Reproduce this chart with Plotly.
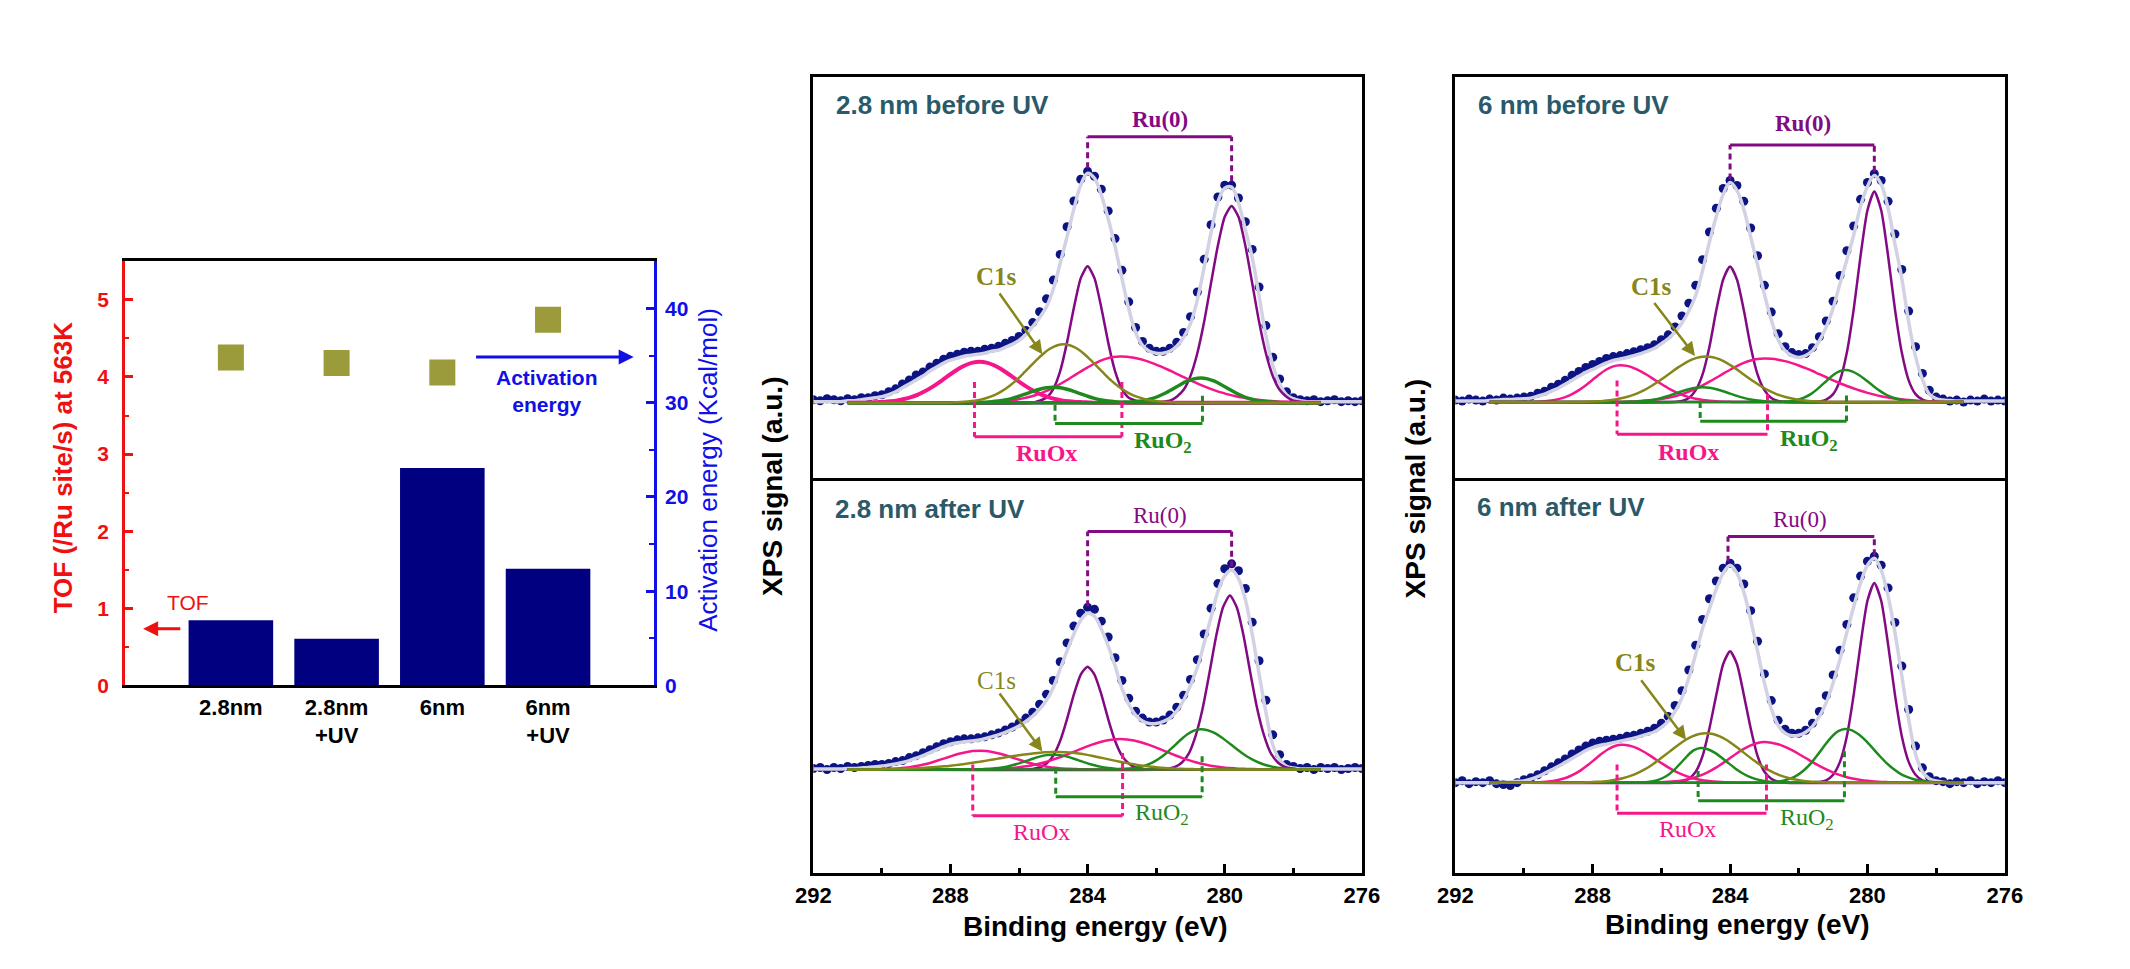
import plotly.graph_objects as go

W, H = 2130, 969
SANS = "Liberation Sans, Arial, sans-serif"
SERIF = "Liberation Serif, Times New Roman, serif"

# ---------------- Left chart: TOF (bars) and activation energy (squares) ----------------
SAMPLE_POS = [0, 1, 2, 3]
SAMPLE_LABELS = ["2.8nm", "2.8nm<br>+UV", "6nm", "6nm<br>+UV"]
TOF_VALUES = [0.846, 0.606, 2.82, 1.513]
ACT_ENERGY = [34.8, 34.2, 33.2, 38.8]

# ---------------- XPS spectra (binding energy grid 292 -> 276 eV, 0.2 eV step) ----------------
BE_START = 292.0
BE_STEP = 0.2
BE_RANGE = [292, 276]
COMPONENT_SPAN = (291.0, 277.2)

# raw data (dots) and fit envelope, intensity in arbitrary units above baseline
DATA_TL = [3, 2, 4, 3, 2, 4, 3, 5, 5, 7,
           8, 11, 14, 19, 23, 28, 31, 36, 40, 44,
           47, 49, 51, 52, 52, 54, 55, 57, 60, 63,
           67, 73, 81, 92, 105, 124, 150, 178, 204, 226,
           234, 229, 216, 194, 166, 134, 102, 76, 62, 55,
           52, 52, 55, 61, 71, 87, 112, 145, 180, 208,
           220, 220, 207, 183, 155, 117, 78, 46, 24, 11,
           5, 3, 2, 3, 1, 2, 3, 1, 2, 1, 2]
ENV_TL = [1, 1, 1, 1, 1, 2, 2, 3, 4, 5,
          6, 8, 11, 15, 19, 23, 27, 32, 36, 40,
          43, 45, 47, 48, 49, 50, 52, 53, 56, 59,
          63, 69, 77, 86, 97, 115, 141, 168, 196, 220,
          232, 227, 210, 186, 158, 126, 95, 71, 58, 52,
          50, 50, 52, 57, 66, 80, 104, 137, 172, 203,
          217, 218, 202, 175, 147, 108, 68, 38, 19, 8,
          4, 2, 1, 1, 1, 1, 1, 1, 1, 1, 1]

DATA_TR = [2, 1, 3, 2, 1, 3, 2, 4, 3, 4,
           5, 6, 9, 11, 15, 18, 22, 27, 31, 35,
           38, 41, 44, 46, 47, 49, 51, 53, 55, 58,
           63, 68, 76, 87, 100, 118, 144, 172, 196, 216,
           224, 219, 203, 176, 148, 118, 91, 69, 56, 50,
           48, 49, 55, 66, 82, 102, 128, 153, 178, 205,
           222, 231, 224, 203, 170, 134, 92, 56, 29, 12,
           5, 3, 1, 2, 0, 2, 1, 3, 1, 2, 1]
ENV_TR = [1, 1, 1, 1, 1, 1.5, 2, 2.5, 2.5, 3,
          3.3, 4, 6, 8, 11, 14, 18, 22, 26, 30,
          33, 36.5, 39.5, 42, 43.5, 45, 47, 49, 51.5, 54.5,
          59, 64, 71, 80, 92, 108, 133, 162, 188, 210,
          222, 214, 195, 167, 139, 109, 83, 63, 52, 47,
          45, 47, 52, 62, 76, 95, 120, 144, 169, 198,
          218, 229, 220, 196, 160, 125, 81, 46, 23, 8,
          3.5, 2, 1.5, 1, 1, 1, 1, 1, 1, 1, 1]

DATA_BL = [1, 2, 0, 2, 1, 3, 2, 3, 4, 5,
           5, 6, 8, 9, 12, 14, 17, 20, 23, 26,
           28, 30, 31, 31, 32, 33, 35, 37, 40, 43,
           47, 52, 58, 66, 76, 90, 109, 128, 145, 158,
           164, 162, 150, 134, 113, 90, 72, 59, 52, 48,
           48, 50, 55, 63, 75, 91, 111, 137, 163, 188,
           203, 208, 201, 183, 149, 110, 70, 35, 15, 5,
           3, 1, 2, 0, 2, 1, 2, 0, 1, 2, 1]
ENV_BL = [0.5, 0.5, 0.5, 0.5, 0.5, 1, 1, 1.5, 2, 2.8,
          3.5, 4.5, 5.5, 7, 9, 11.5, 14, 17, 20, 23,
          25.5, 27, 28, 28.8, 29.5, 31, 33, 35, 37.5, 40.5,
          44, 48.5, 54, 61, 70, 83, 101.7, 120, 137, 151,
          158, 155, 142, 125, 105, 82, 66, 55, 49, 46.5,
          46.5, 48.5, 52, 59, 70, 85, 103, 128, 154, 180,
          196, 201.7, 193, 172, 137, 97, 58, 25, 10, 3.3,
          1.5, 0.5, 0.5, 0.5, 0.5, 0.5, 0.5, 0.5, 0.5, 0.5, 0.5]

DATA_BR = [0, 2, -1, 1, 0, 2, -1, -2, -3, 0,
           3, 5, 8, 12, 16, 20, 24, 29, 33, 37,
           40, 42, 43, 44, 45, 47, 48, 50, 52, 55,
           60, 67, 78, 93, 114, 139, 165, 186, 204, 217,
           222, 217, 201, 174, 143, 110, 83, 63, 54, 50,
           50, 53, 60, 72, 88, 109, 134, 160, 187, 209,
           224, 229, 220, 197, 162, 118, 74, 37, 15, 6,
           2, 1, -1, 1, 0, 2, -1, 1, 0, 2, 0]
ENV_BR = [0, 0, 0, 0, 0, 0, 0, 0.5, 1, 1.3,
          1.7, 3.5, 6, 9.5, 13, 16.5, 20.5, 24.5, 28.5, 32.5,
          35.5, 37.5, 39, 40.5, 42, 43.5, 45, 47, 49, 51.5,
          56, 62, 72, 86, 106, 130, 156, 176, 196, 212,
          220, 212, 193, 165, 133, 101, 75, 58, 50, 47.5,
          48, 51, 57, 67, 81, 101, 125, 152, 178, 202,
          220, 227, 215, 189, 152, 108, 64, 29, 11, 4,
          1.7, 0.5, 0, 0, 0, 0, 0, 0, 0, 0, 0]

# fitted components: (peak centre eV, intensities on the 0.2 eV grid, high BE -> low BE)
RU0_TL = [(284.0, [0, 2, 5, 14, 32, 61, 96, 126, 138, 126, 96, 61, 32, 14, 5, 2, 0]),
          (279.8, [0, 1, 2, 6, 13, 27, 50, 82, 121, 159, 188, 199, 188, 159, 121, 82, 50, 27, 13, 6, 2, 1, 0])]
RUOX_TL = [(287.15, [0, 0.2, 0.5, 0.8, 1.4, 2.3, 3.7, 5.6, 8.2, 11.5, 15.5, 20.1, 25.1, 30, 34.5, 38.1, 40.5, 41.3,
                     40.5, 38.1, 34.5, 30, 25.1, 20.1, 15.5, 11.5, 8.2, 5.6, 3.7, 2.3, 1.4, 0.8, 0.5, 0.2, 0]),
           (283.05, [0, 0.4, 0.7, 1, 1.5, 2.2, 3.3, 4.6, 6.3, 8.5, 11.2, 14.3, 17.9, 21.9, 26.2, 30.5, 34.7, 38.6, 42, 44.6,
                     46.1, 46.7, 46.4, 45.4, 43.9, 41.8, 39.3, 36.4, 33.3, 30, 26.7, 23.4, 20.2, 17.2, 14.5, 12, 9.9,
                     7.9, 6.3, 5, 3.8, 2.9, 2.2, 1.6, 1.2, 0.9, 0.6, 0])]
RUO2_TL = [(285.0, [0, 0.2, 0.5, 0.9, 1.6, 2.7, 4.4, 6.5, 8.9, 11.4, 13.6, 15.2, 15.7, 15.2, 13.6, 11.4, 8.9, 6.5, 4.4,
                    2.7, 1.6, 0.9, 0.5, 0.2, 0]),
           (280.7, [0, 0.4, 0.7, 1.4, 2.6, 4.4, 7, 10.3, 14.2, 18.2, 21.7, 24.1, 25, 24.1, 21.7, 18.2, 14.2, 10.3, 7, 4.4,
                    2.6, 1.4, 0.7, 0.4, 0])]
C1S_TL = [(284.7, [0, 0.4, 0.6, 1.2, 2, 3.3, 5.3, 8, 11.7, 16.4, 22.1, 28.7, 35.8, 42.8, 49.3, 54.5, 57.8, 59, 57.8,
                   54.5, 49.3, 42.8, 35.8, 28.7, 22.1, 16.4, 11.7, 8, 5.3, 3.3, 2, 1.2, 0.6, 0.4, 0])]

RU0_TR = [(284.0, [0, 1, 4, 12, 28, 56, 93, 124, 137, 124, 93, 56, 28, 12, 4, 1, 0]),
          (279.8, [0, 0.6, 2.5, 8, 22, 50, 94, 148, 194, 213, 194, 148, 94, 50, 22, 8, 2.5, 0.6, 0])]
RUOX_TR = [(287.2, [0, 0.4, 0.9, 1.6, 3, 5, 8.1, 12.1, 17.1, 22.6, 28.2, 32.9, 36.1, 37.3, 36.6, 34.4, 31.1, 27.1,
                    22.6, 18.2, 14, 10.4, 7.4, 5, 3.3, 2.1, 1.3, 0.7, 0.4, 0.2, 0]),
           (283.0, [0, 0.4, 0.6, 1, 1.5, 2.1, 3.1, 4.3, 5.9, 8, 10.5, 13.5, 16.9, 20.6, 24.6, 28.7, 32.7, 36.4, 39.6, 42,
                    43.5, 44, 43.7, 42.8, 41.4, 39.4, 37, 34.3, 31.4, 28.2, 25.1, 22, 19, 16.2, 13.7, 11.4, 9.3, 7.5,
                    5.9, 4.7, 3.6, 2.8, 2.1, 1.5, 1.1, 0.8, 0.6, 0])]
RUO2_TR = [(284.8, [0, 0.2, 0.4, 0.8, 1.5, 2.6, 4.2, 6.2, 8.5, 10.9, 13, 14.5, 15, 14.5, 13, 10.9, 8.5, 6.2, 4.2, 2.6,
                    1.5, 0.8, 0.4, 0.2, 0]),
           (280.65, [0, 0.4, 0.9, 2.1, 4.4, 8, 13.3, 19.6, 25.9, 30.6, 32.3, 31, 27.4, 22.4, 16.8, 11.6, 7.4, 4.4, 2.4,
                     1.2, 0.5, 0])]
C1S_TR = [(284.7, [0, 0.4, 0.7, 1.1, 1.8, 2.8, 4.3, 6.2, 8.8, 12.1, 16, 20.5, 25.4, 30.5, 35.3, 39.7, 43.1, 45.3, 46,
                   45.3, 43.1, 39.7, 35.3, 30.5, 25.4, 20.5, 16, 12.1, 8.8, 6.2, 4.3, 2.8, 1.8, 1.1, 0.7, 0.4, 0])]

RU0_BL = [(284.0, [0, 0.6, 2, 6, 14, 29, 51, 76, 96, 104, 96, 76, 51, 29, 14, 6, 2, 0.6, 0]),
          (279.85, [0, 0.9, 2.6, 7, 16, 34, 61, 97, 135, 164, 176, 164, 135, 97, 61, 34, 16, 7, 2.6, 0.9, 0])]
RUOX_BL = [(287.15, [0, 0.2, 0.4, 0.6, 1.1, 1.7, 2.6, 3.8, 5.3, 7.1, 9.3, 11.5, 13.8, 15.9, 17.5, 18.6, 19, 18.6, 17.5,
                     15.9, 13.8, 11.5, 9.3, 7.1, 5.3, 3.8, 2.6, 1.7, 1.1, 0.6, 0.4, 0.2, 0]),
           (283.05, [0, 0.3, 0.4, 0.7, 1, 1.5, 2.1, 3, 4.1, 5.6, 7.3, 9.4, 11.8, 14.4, 17.2, 20, 22.8, 25.4, 27.6, 29.3,
                     30.3, 30.7, 30.3, 29.3, 27.6, 25.4, 22.8, 20, 17.2, 14.4, 11.8, 9.4, 7.3, 5.6, 4.1, 3, 2.1, 1.5,
                     1, 0.7, 0.4, 0.3, 0])]
RUO2_BL = [(285.0, [0, 0.2, 0.4, 0.8, 1.5, 2.6, 4.2, 6.2, 8.5, 10.9, 13, 14.5, 15, 14.5, 13, 10.9, 8.5, 6.2, 4.2, 2.6,
                    1.5, 0.8, 0.4, 0.2, 0]),
           (280.7, [0, 0.2, 0.6, 1.2, 2.3, 4.2, 7.1, 11.3, 16.7, 23, 29.5, 35.3, 39.3, 40.7, 39.7, 36.9, 32.6, 27.4,
                    21.9, 16.7, 12.1, 8.4, 5.5, 3.5, 2, 1.2, 0.6, 0.3, 0])]
C1S_BL = [(284.85, [0, 0.4, 0.5, 0.7, 0.9, 1.2, 1.5, 1.9, 2.4, 3, 3.6, 4.4, 5.3, 6.2, 7.3, 8.4, 9.5, 10.7, 11.9, 13.1,
                    14.2, 15.2, 16, 16.7, 17.3, 17.6, 17.7, 17.5, 17, 16.1, 15, 13.7, 12.2, 10.7, 9.2, 7.7, 6.4, 5.2,
                    4.1, 3.2, 2.4, 1.8, 1.3, 0.9, 0.7, 0.4, 0.3, 0])]

RU0_BR = [(284.0, [0, 1, 4, 11, 27, 55, 89, 120, 133, 120, 89, 55, 27, 11, 4, 1, 0]),
          (279.8, [0, 0.6, 2.4, 8, 21, 47, 89, 140, 184, 202, 184, 140, 89, 47, 21, 8, 2.4, 0.6, 0])]
RUOX_BR = [(287.15, [0, 0.2, 0.4, 0.9, 1.7, 3.1, 5.2, 8.3, 12.4, 17.5, 23.2, 28.9, 33.8, 37.1, 38.3, 37.5, 35.4, 32,
                     27.8, 23.2, 18.7, 14.4, 10.6, 7.6, 5.2, 3.4, 2.1, 1.3, 0.8, 0.4, 0.2, 0]),
           (283.0, [0, 0.2, 0.5, 0.8, 1.4, 2.3, 3.6, 5.5, 8.1, 11.4, 15.4, 20, 24.9, 29.8, 34.2, 37.8, 40.2, 41, 40.4,
                    38.8, 36.2, 32.8, 29, 24.9, 20.7, 16.9, 13.3, 10.2, 7.6, 5.5, 3.9, 2.7, 1.8, 1.2, 0.7, 0.5, 0.3, 0])]
RUO2_BR = [(284.85, [0, 0.2, 0.5, 1.4, 3.3, 6.7, 12.1, 19.3, 26.9, 32.8, 35, 33.8, 30.3, 25.4, 19.8, 14.4, 9.7, 6.1,
                     3.6, 2, 1, 0.5, 0.2, 0]),
           (280.65, [0, 0.4, 0.9, 2, 4, 7.3, 12.5, 19.5, 28.2, 37.6, 46.1, 52.1, 54.3, 52.8, 48.6, 42.4, 34.9, 27.2,
                     20, 14, 9.2, 5.8, 3.4, 1.9, 1, 0.5, 0])]
C1S_BR = [(284.7, [0, 0.5, 0.8, 1.2, 2, 3.1, 4.7, 6.8, 9.6, 13.1, 17.4, 22.3, 27.6, 33.1, 38.4, 43.1, 46.8, 49.2, 50,
                   49.2, 46.8, 43.1, 38.4, 33.1, 27.6, 22.3, 17.4, 13.1, 9.6, 6.8, 4.7, 3.1, 2, 1.2, 0.8, 0.5, 0])]

# peak-assignment brackets: [BE left, BE right, y of bar, y end left, y end right]
RU0_BR_TL = [284.0, 279.8, 269, 237, 224]
RUOX_BR_TL = [287.3, 283.0, -34.4, 21, 21]
RUO2_BR_TL = [284.95, 280.65, -21, -2, 7]
RU0_BR_TR = [284.0, 279.8, 260, 225, 233]
RUOX_BR_TR = [287.29, 282.91, -32.6, 21.7, 8]
RUO2_BR_TR = [284.87, 280.61, -19.3, 0, 6.7]
RU0_BR_BL = [284.0, 279.8, 240.6, 165, 205]
RUOX_BR_BL = [287.35, 282.98, -46.7, 5, 16.7]
RUO2_BR_BL = [284.93, 280.66, -27.7, 1.7, 13.3]
RU0_BR_BR = [284.06, 279.8, 249, 223.4, 230]
RUOX_BR_BR = [287.29, 282.94, -31, 18.3, 18.3]
RUO2_BR_BR = [284.93, 280.67, -18.3, 11.7, 31.7]

# label anchors (BE, intensity): Ru(0), RuOx, RuO2, C1s text, C1s arrow tail, C1s arrow head, title
LBL_TL = [(281.9, 286.6), (285.2, -51), (281.8, -39.4), (286.66, 127.3), (286.6, 112), (285.32, 49), (291.4, 300.6)]
LBL_TR = [(281.89, 281.7), (285.21, -50), (281.7, -38.3), (286.3, 116.7), (286.24, 101.7), (285.02, 46.7), (291.41, 300)]
LBL_BL = [(281.89, 256.6), (285.34, -63.4), (281.83, -45), (286.66, 90), (286.6, 78.3), (285.32, 18.3), (291.44, 263.3)]
LBL_BR = [(281.95, 266), (285.25, -46.6), (281.76, -36.6), (286.75, 121.7), (286.62, 105), (285.28, 43.4), (291.44, 278.4)]

YR_TL = [-79.2, 329]
YR_TR = [-79.8, 328.3]
YR_BL = [-105, 291.8]
YR_BR = [-91.7, 305.2]

# ---------------- styling ----------------
NAVY = "#000080"
SQ_COL = "#9b9b3b"
RED = "#ee1111"
BLUE = "#0f0fe6"
C_DATA = "#0c1382"
C_ENV = "#d2d2e4"
C_RU0 = "#820a82"
C_RUOX = "#f5168c"
C_RUO2 = "#1e8a1e"
C_C1S = "#86861a"
C_TITLE = "#2a5a6a"

fig = go.Figure()

# ---- left chart ----
fig.add_trace(go.Bar(x=SAMPLE_POS, y=TOF_VALUES, width=0.8, marker=dict(color=NAVY, line=dict(width=0)),
                     xaxis="x", yaxis="y", hoverinfo="skip"))
fig.add_trace(go.Scatter(x=SAMPLE_POS, y=ACT_ENERGY, mode="markers",
                         marker=dict(symbol="square", size=26, color=SQ_COL, line=dict(width=0)),
                         xaxis="x", yaxis="y2", hoverinfo="skip"))


def grid(n):
    return [round(BE_START - BE_STEP * i, 2) for i in range(n)]


def peak_xy(center, vals):
    ip = vals.index(max(vals))
    xs = [round(center + BE_STEP * (ip - i), 3) for i in range(len(vals))]
    return [COMPONENT_SPAN[0]] + xs + [COMPONENT_SPAN[1]], [0] + list(vals) + [0]


annotations = []


def draw_panel(xa, ya, data, env, ru0, ruox, ruo2, c1s, br_ru0, br_ruox, br_ruo2, lbl, title, bold, c1s_bold,
               wide_first=False):
    g = grid(len(data))
    fig.add_trace(go.Scatter(x=g, y=data, mode="markers", marker=dict(size=9, color=C_DATA, line=dict(width=0)),
                             xaxis=xa, yaxis=ya, hoverinfo="skip"))
    fig.add_trace(go.Scatter(x=grid(len(env)), y=env, mode="lines", line=dict(color=C_ENV, width=3.5, shape="spline"),
                             xaxis=xa, yaxis=ya, hoverinfo="skip"))
    for comp, col in ((ru0, C_RU0), (ruox, C_RUOX), (ruo2, C_RUO2), (c1s, C_C1S)):
        for j, (c, v) in enumerate(comp):
            xs, ys = peak_xy(c, v)
            w = 2.5
            if wide_first and col == C_RUOX and j == 0:
                w = 4
            if wide_first and col == C_RUO2:
                w = 3.5
            fig.add_trace(go.Scatter(x=xs, y=ys, mode="lines",
                                     line=dict(color=col, width=w, shape="spline", smoothing=0.6),
                                     xaxis=xa, yaxis=ya, hoverinfo="skip"))
    for br, col in ((br_ru0, C_RU0), (br_ruox, C_RUOX), (br_ruo2, C_RUO2)):
        x1, x2, yb, y1, y2 = br
        fig.add_trace(go.Scatter(x=[x1, x2], y=[yb, yb], mode="lines", line=dict(color=col, width=3),
                                 xaxis=xa, yaxis=ya, hoverinfo="skip"))
        fig.add_trace(go.Scatter(x=[x1, x1, None, x2, x2], y=[y1, yb, None, y2, yb], mode="lines",
                                 line=dict(color=col, width=3, dash="6px,4px"), xaxis=xa, yaxis=ya, hoverinfo="skip"))
    wt = "bold" if bold else "normal"
    common = dict(xref=xa, yref=ya, showarrow=False, xanchor="center", yanchor="middle")
    annotations.append(dict(x=lbl[0][0], y=lbl[0][1], text="Ru(0)",
                            font=dict(family=SERIF, size=23, color=C_RU0, weight=wt), **common))
    annotations.append(dict(x=lbl[1][0], y=lbl[1][1], text="RuOx",
                            font=dict(family=SERIF, size=24, color=C_RUOX, weight=wt), **common))
    annotations.append(dict(x=lbl[2][0], y=lbl[2][1], text="RuO<sub>2</sub>",
                            font=dict(family=SERIF, size=24, color=C_RUO2, weight=wt), **common))
    annotations.append(dict(x=lbl[3][0], y=lbl[3][1], text="C1s",
                            font=dict(family=SERIF, size=25, color=C_C1S, weight="bold" if c1s_bold else "normal"),
                            **common))
    annotations.append(dict(x=lbl[5][0], y=lbl[5][1], xref=xa, yref=ya, ax=lbl[4][0], ay=lbl[4][1],
                            axref=xa, ayref=ya, text="", showarrow=True, arrowhead=2, arrowsize=1.1,
                            arrowwidth=2.5, arrowcolor=C_C1S))
    annotations.append(dict(x=lbl[6][0], y=lbl[6][1], xref=xa, yref=ya, text=title, showarrow=False,
                            xanchor="left", yanchor="middle",
                            font=dict(family=SANS, size=26, color=C_TITLE, weight="bold")))


draw_panel("x2", "y3", DATA_TL, ENV_TL, RU0_TL, RUOX_TL, RUO2_TL, C1S_TL, RU0_BR_TL, RUOX_BR_TL, RUO2_BR_TL,
           LBL_TL, "2.8 nm before UV", True, True, wide_first=True)
draw_panel("x3", "y4", DATA_TR, ENV_TR, RU0_TR, RUOX_TR, RUO2_TR, C1S_TR, RU0_BR_TR, RUOX_BR_TR, RUO2_BR_TR,
           LBL_TR, "6 nm before UV", True, True)
draw_panel("x4", "y5", DATA_BL, ENV_BL, RU0_BL, RUOX_BL, RUO2_BL, C1S_BL, RU0_BR_BL, RUOX_BR_BL, RUO2_BR_BL,
           LBL_BL, "2.8 nm after UV", False, False)
draw_panel("x5", "y6", DATA_BR, ENV_BR, RU0_BR, RUOX_BR, RUO2_BR, C1S_BR, RU0_BR_BR, RUOX_BR_BR, RUO2_BR_BR,
           LBL_BR, "6 nm after UV", False, True)

# ---- left chart and axis-title annotations ----
pc = dict(xref="paper", yref="paper", showarrow=False, xanchor="center", yanchor="middle")
annotations += [
    dict(x=-0.41, y=1.08, xref="x", yref="y", text="TOF", showarrow=False, xanchor="center", yanchor="middle",
         font=dict(family=SANS, size=21, color=RED)),
    dict(x=-0.83, y=0.735, xref="x", yref="y", ax=-0.464, ay=0.735, axref="x", ayref="y", text="",
         showarrow=True, arrowhead=2, arrowsize=1, arrowwidth=3, arrowcolor=RED),
    dict(x=2.986, y=31.2, xref="x", yref="y2", text="Activation<br>energy", showarrow=False,
         xanchor="center", yanchor="middle", font=dict(family=SANS, size=21, color=BLUE, weight="bold")),
    dict(x=3.81, y=34.84, xref="x", yref="y2", ax=2.305, ay=34.84, axref="x", ayref="y2", text="",
         showarrow=True, arrowhead=2, arrowsize=1, arrowwidth=3, arrowcolor=BLUE),
    dict(x=46 / W, y=1 - 472.5 / H, text="TOF (/Ru site/s) at 563K", textangle=-90,
         font=dict(family=SANS, size=26, color=RED, weight="bold"), **pc),
    dict(x=701 / W, y=1 - 475 / H, text="Activation energy (Kcal/mol)", textangle=-90,
         font=dict(family=SANS, size=26, color=BLUE), **pc),
    dict(x=768 / W, y=1 - 492.5 / H, text="XPS signal (a.u.)", textangle=-90,
         font=dict(family=SANS, size=28, color="black", weight="bold"), **pc),
    dict(x=1421 / W, y=1 - 494 / H, text="XPS signal (a.u.)", textangle=-90,
         font=dict(family=SANS, size=28, color="black", weight="bold"), **pc),
    dict(x=1095.7 / W, y=1 - 936.7 / H, text="Binding energy (eV)",
         font=dict(family=SANS, size=28, color="black", weight="bold"), **pc),
    dict(x=1748.8 / W, y=1 - 935 / H, text="Binding energy (eV)",
         font=dict(family=SANS, size=28, color="black", weight="bold"), **pc),
]

LEFT_COL = [809 / W, 1367 / W]
RIGHT_COL = [1462 / W, 2021 / W]
TOP_ROW = [1 - 486.5 / H, 1 - 78.3 / H]
BOT_ROW = [1 - 883.3 / H, 1 - 486.5 / H]


def xps_x(domain, anchor, bottom):
    d = dict(domain=domain, anchor=anchor, range=BE_RANGE, showline=True, linecolor="black", linewidth=3,
             showgrid=False, zeroline=False)
    if bottom:
        d.update(mirror=True, ticks="inside", tick0=276, dtick=4, ticklen=9, tickwidth=2.5, tickcolor="black",
                 minor=dict(ticks="inside", tick0=276, dtick=2, ticklen=5, tickwidth=2.5, tickcolor="black"),
                 tickfont=dict(family=SANS, size=22, color="black", weight="bold"), showticklabels=True)
    else:
        # only the top frame line; the shared divider is drawn by the lower panel
        d.update(side="top", mirror=False, ticks="", showticklabels=False)
    return d


def xps_y(domain, anchor, rng):
    return dict(domain=domain, anchor=anchor, range=rng, showline=True, linecolor="black", linewidth=3,
                mirror=True, showgrid=False, zeroline=False, ticks="", showticklabels=False)


fig.update_layout(
    width=W, height=H, margin=dict(l=0, r=0, t=0, b=0),
    paper_bgcolor="white", plot_bgcolor="white", showlegend=False,
    font=dict(family=SANS, color="black"),
    xaxis=dict(domain=[109 / W, 646.7 / W], anchor="y", range=[-1, 4], tickmode="array", tickvals=SAMPLE_POS,
               ticktext=SAMPLE_LABELS, ticks="", showline=True, linecolor="black", linewidth=3, mirror=True,
               showgrid=False, zeroline=False, tickfont=dict(family=SANS, size=22, color="black", weight="bold")),
    yaxis=dict(domain=[1 - 693.3 / H, 1 - 264.3 / H], anchor="x", range=[0, 5.5], tick0=0, dtick=1,
               ticks="inside", ticklen=8, tickwidth=2.5, tickcolor=RED, showline=True, linecolor=RED, linewidth=3,
               showgrid=False, zeroline=False, ticklabelstandoff=9,
               tickfont=dict(family=SANS, size=21, color=RED, weight="bold"),
               minor=dict(ticks="inside", tick0=0, dtick=0.5, ticklen=4, tickwidth=2, tickcolor=RED)),
    yaxis2=dict(overlaying="y", side="right", anchor="x", range=[0, 45], tick0=0, dtick=10,
                ticks="inside", ticklen=8, tickwidth=2.5, tickcolor=BLUE, showline=True, linecolor=BLUE,
                linewidth=3, showgrid=False, zeroline=False, ticklabelstandoff=4,
                tickfont=dict(family=SANS, size=21, color=BLUE, weight="bold"),
                minor=dict(ticks="inside", tick0=0, dtick=5, ticklen=5, tickwidth=2, tickcolor=BLUE)),
    xaxis2=xps_x(LEFT_COL, "y3", False),
    yaxis3=xps_y(TOP_ROW, "x2", YR_TL),
    xaxis3=xps_x(RIGHT_COL, "y4", False),
    yaxis4=xps_y(TOP_ROW, "x3", YR_TR),
    xaxis4=xps_x(LEFT_COL, "y5", True),
    yaxis5=xps_y(BOT_ROW, "x4", YR_BL),
    xaxis5=xps_x(RIGHT_COL, "y6", True),
    yaxis6=xps_y(BOT_ROW, "x5", YR_BR),
    annotations=annotations,
)

fig.write_html("out.html", include_plotlyjs=True, full_html=True, config={"displayModeBar": False},
               post_script="document.body.style.margin='0';document.body.style.overflow='hidden';")
